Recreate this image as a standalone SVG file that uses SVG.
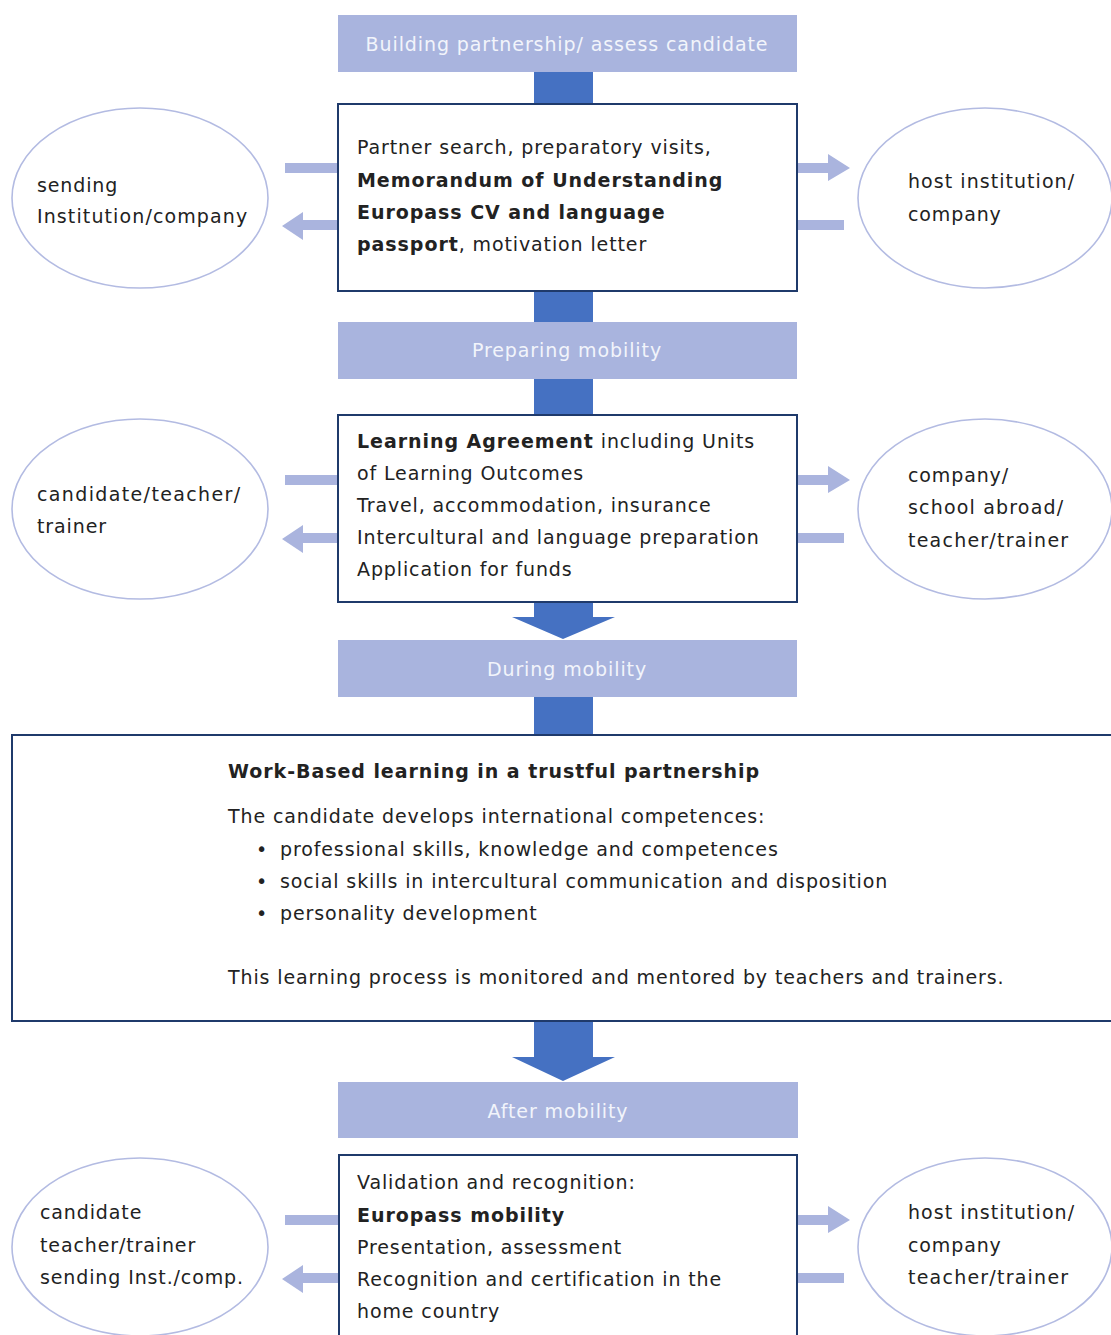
<svg xmlns="http://www.w3.org/2000/svg" width="1111" height="1335" viewBox="0 0 1111 1335">
<style>
.hdr{fill:#a9b4de}
.hdrt{fill:#f2f4fb;font-family:"DejaVu Sans",Verdana,sans-serif;font-size:19px;text-anchor:middle;letter-spacing:0.9px}
.bar{fill:#4571c2}
.box{fill:#fff;stroke:#1f3a6b;stroke-width:2}
.ell{fill:#fff;stroke:#b3bbe2;stroke-width:1.6}
.side{fill:#aab4de}
.t{fill:#222;font-family:"DejaVu Sans",Verdana,sans-serif;font-size:19px;letter-spacing:0.88px}
.b{font-weight:bold;letter-spacing:0.95px}
</style>
<rect width="1111" height="1335" fill="#fff"/>
<g id="connectors">
<rect class="bar" x="534" y="72" width="59" height="32"/>
<rect class="bar" x="534" y="291" width="59" height="32"/>
<rect class="bar" x="534" y="379" width="59" height="37"/>
<polygon class="bar" points="534,602 593,602 593,617 615,617 563,639 512,617 534,617"/>
<rect class="bar" x="534" y="697" width="59" height="39"/>
<polygon class="bar" points="534,1021 593,1021 593,1057 615,1057 563,1081 512,1057 534,1057"/>
<rect class="side" x="285" y="163" width="53" height="10"/>
<polygon class="side" points="338,220 303,220 303,212 282,226 303,240 303,230 338,230"/>
<polygon class="side" points="797,163 828,163 828,154 850,168 828,181 828,173 797,173"/>
<rect class="side" x="797" y="220" width="47" height="10"/>
<rect class="side" x="285" y="475" width="53" height="10"/>
<polygon class="side" points="338,533 303,533 303,525 282,539 303,553 303,543 338,543"/>
<polygon class="side" points="797,475 828,475 828,466 850,480 828,493 828,485 797,485"/>
<rect class="side" x="797" y="533" width="47" height="10"/>
<rect class="side" x="285" y="1215" width="53" height="10"/>
<polygon class="side" points="339,1273 303,1273 303,1265 282,1279 303,1293 303,1283 339,1283"/>
<polygon class="side" points="797,1215 828,1215 828,1206 850,1220 828,1233 828,1225 797,1225"/>
<rect class="side" x="797" y="1273" width="47" height="10"/>
</g>
<g id="h1"><rect class="hdr" x="338" y="15" width="459" height="57"/><text class="hdrt" x="567" y="51">Building partnership/ assess candidate</text></g>
<g id="box1"><rect class="box" x="338" y="104" width="459" height="187"/>
<text class="t" x="357" y="154">Partner search, preparatory visits,</text>
<text class="t b" x="357" y="187">Memorandum of Understanding</text>
<text class="t b" x="357" y="219">Europass CV and language</text>
<text class="t" x="357" y="251"><tspan class="b">passport</tspan>, motivation letter</text>
</g>
<g id="e1l"><ellipse class="ell" cx="140" cy="198" rx="128" ry="90"/>
<text class="t" x="37" y="192">sending</text><text class="t" x="37" y="223" textLength="211" lengthAdjust="spacing">Institution/company</text></g>
<g id="e1r"><ellipse class="ell" cx="985" cy="198" rx="127" ry="90"/>
<text class="t" x="908" y="188" textLength="167" lengthAdjust="spacing">host institution/</text><text class="t" x="908" y="221">company</text></g>
<g id="h2"><rect class="hdr" x="338" y="322" width="459" height="57"/><text class="hdrt" x="567" y="357">Preparing mobility</text></g>
<g id="box2"><rect class="box" x="338" y="415" width="459" height="187"/>
<text class="t" x="357" y="448"><tspan class="b">Learning Agreement</tspan> including Units</text>
<text class="t" x="357" y="480">of Learning Outcomes</text>
<text class="t" x="357" y="512">Travel, accommodation, insurance</text>
<text class="t" x="357" y="544">Intercultural and language preparation</text>
<text class="t" x="357" y="576">Application for funds</text>
</g>
<g id="e2l"><ellipse class="ell" cx="140" cy="509" rx="128" ry="90"/>
<text class="t" x="37" y="501" textLength="204" lengthAdjust="spacing">candidate/teacher/</text><text class="t" x="37" y="533">trainer</text></g>
<g id="e2r"><ellipse class="ell" cx="985" cy="509" rx="127" ry="90"/>
<text class="t" x="908" y="482">company/</text><text class="t" x="908" y="514" textLength="156" lengthAdjust="spacing">school abroad/</text><text class="t" x="908" y="547" textLength="161" lengthAdjust="spacing">teacher/trainer</text></g>
<g id="h3"><rect class="hdr" x="338" y="640" width="459" height="57"/><text class="hdrt" x="567" y="676">During mobility</text></g>
<g id="box3"><rect class="box" x="12" y="735" width="1110" height="286"/>
<text class="t b" x="228" y="778">Work-Based learning in a trustful partnership</text>
<text class="t" x="228" y="823">The candidate develops international competences:</text>
<text class="t" x="256" y="856">•</text><text class="t" x="280" y="856">professional skills, knowledge and competences</text>
<text class="t" x="256" y="888">•</text><text class="t" x="280" y="888">social skills in intercultural communication and disposition</text>
<text class="t" x="256" y="920">•</text><text class="t" x="280" y="920">personality development</text>
<text class="t" x="228" y="984">This learning process is monitored and mentored by teachers and trainers.</text>
</g>
<g id="h4"><rect class="hdr" x="338" y="1082" width="460" height="56"/><text class="hdrt" x="558" y="1118">After mobility</text></g>
<g id="box4"><rect class="box" x="339" y="1155" width="458" height="200"/>
<text class="t" x="357" y="1189">Validation and recognition:</text>
<text class="t b" x="357" y="1222">Europass mobility</text>
<text class="t" x="357" y="1254">Presentation, assessment</text>
<text class="t" x="357" y="1286">Recognition and certification in the</text>
<text class="t" x="357" y="1318">home country</text>
</g>
<g id="e3l"><ellipse class="ell" cx="140" cy="1247" rx="128" ry="89"/>
<text class="t" x="40" y="1219">candidate</text><text class="t" x="40" y="1252">teacher/trainer</text><text class="t" x="40" y="1284">sending Inst./comp.</text></g>
<g id="e3r"><ellipse class="ell" cx="985" cy="1247" rx="127" ry="89"/>
<text class="t" x="908" y="1219" textLength="167" lengthAdjust="spacing">host institution/</text><text class="t" x="908" y="1252">company</text><text class="t" x="908" y="1284" textLength="161" lengthAdjust="spacing">teacher/trainer</text></g>
</svg>
